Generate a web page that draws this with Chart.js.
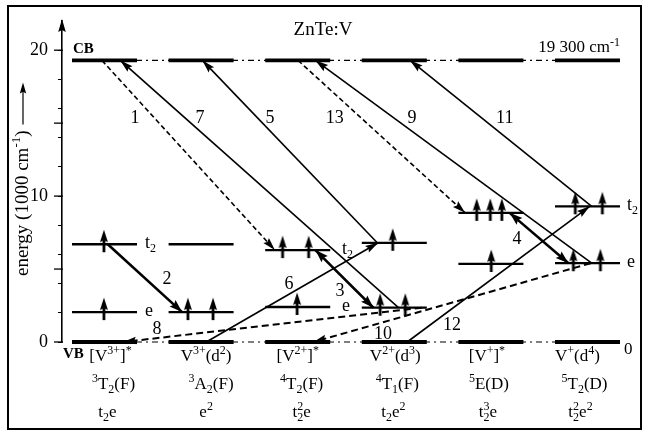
<!DOCTYPE html>
<html>
<head>
<meta charset="utf-8">
<script src="https://cdn.jsdelivr.net/npm/chart.js@4.4.1/dist/chart.umd.min.js"></script>
<style>
  html, body { margin: 0; padding: 0; background: #fff; }
  canvas { display: block; }
</style>
</head>
<body>
<canvas id="chart" width="646" height="432"></canvas>
<script>
// ---- data (energies in 1000 cm-1, x in column units) ----
const CB = 19.3;
const VB = 0;
const rowIon = ["[V^{3+}]^{*}", "V^{3+}(d^{2})", "[V^{2+}]^{*}", "V^{2+}(d^{3})", "[V^{+}]^{*}", "V^{+}(d^{4})"];
const rowTerm = ["^{3}T_{2}(F)", "^{3}A_{2}(F)", "^{4}T_{2}(F)", "^{4}T_{1}(F)", "^{5}E(D)", "^{5}T_{2}(D)"];
const rowConf = ["t_{2}e", "e^{2}", "t_{2}^{2}e", "t_{2}e^{2}", "t_{2}^{3}e", "t_{2}^{2}e^{2}"];
const levelT2 = [6.7, 6.7, 6.3, 6.8, 8.85, 9.3];
const levelE = [2.05, 2.05, 2.4, 2.35, 5.35, 5.4];

// electrons (spin-up arrows) sitting on the levels
const spinX = [0.33, 0.33, 1.2, 1.46, 2.18, 2.45, 2.33, 3.32, 3.19, 3.45, 4.19, 4.33, 4.45, 4.34, 5.21, 5.49, 5.19, 5.47];
const spinE = [6.7, 2.05, 2.05, 2.05, 6.3, 6.3, 2.4, 6.8, 2.35, 2.35, 8.85, 8.85, 8.85, 5.35, 9.3, 9.3, 5.4, 5.4];

// transitions 1..13 : start -> end (arrow at end)
const transNo = ["1", "2", "3", "4", "5", "6", "7", "8", "9", "10", "11", "12", "13"];
const transX0 = [0.31, 0.37, 2.52, 4.53, 3.16, 1.39, 3.38, 3.62, 5.38, 5.37, 5.38, 3.47, 2.34];
const transE0 = [19.3, 6.7, 6.3, 8.85, 6.8, 0, 2.35, 2.35, 5.4, 5.4, 9.3, 0, 19.3];
const transX1 = [2.1, 1.14, 3.12, 5.14, 1.35, 3.17, 0.5, 0.53, 2.52, 2.5, 3.5, 5.36, 4.07];
const transE1 = [6.3, 2.05, 2.35, 5.4, 19.3, 6.8, 19.3, 0, 19.3, 0, 19.3, 9.3, 8.85];

// ---- layout ----
const W = 0.673;                       // width of a level segment
const dashed = ["1", "8", "10", "13"];
const doubleHead = ["3", "4"];
const thick = ["2", "3", "4"];
const numX = [0.652, 0.983, 2.774, 4.607, 2.05, 2.246, 1.325, 0.88, 3.52, 3.22, 4.48, 3.934, 2.72];
const numE = [15.4, 4.39, 3.56, 7.13, 15.4, 4.04, 15.4, 0.96, 15.4, 0.62, 15.4, 1.23, 15.4];
const serif = '"Liberation Serif", "Times New Roman", serif';

// spin arrow glyph used as point style
const spin = document.createElement("canvas");
spin.width = 12; spin.height = 30;
(() => {
  const g = spin.getContext("2d");
  g.fillStyle = "#000"; g.strokeStyle = "#000";
  g.lineWidth = 2.8;
  g.beginPath(); g.moveTo(6, 10); g.lineTo(6, 23); g.stroke();
  g.beginPath(); g.moveTo(6, 0.5); g.lineTo(10, 13); g.lineTo(6, 11); g.lineTo(2, 13); g.closePath(); g.fill();
})();

const seg = (x0, x1, y, w, dash) => ({
  data: [{ x: x0, y: y }, { x: x1, y: y }],
  showLine: true, borderColor: "#000", borderWidth: w, borderDash: dash || [],
  pointRadius: 0, clip: false
});

const datasets = [];
datasets.push(seg(0, 5 + W, CB, 1.2, [6, 4, 2, 4]));
datasets.push(seg(0, 5 + W, VB, 1.2, [6, 4, 2, 4]));
for (let i = 0; i < 6; i++) {
  datasets.push(seg(i, i + W, CB, 3.6));
  datasets.push(seg(i, i + W, VB, 3.8));
  datasets.push(seg(i, i + W, levelT2[i], 2.3));
  datasets.push(seg(i, i + W, levelE[i], 2.3));
}
const transStart = datasets.length;
transNo.forEach((n, k) => {
  datasets.push({
    data: [{ x: transX0[k], y: transE0[k] }, { x: transX1[k], y: transE1[k] }],
    showLine: true, borderColor: "#000", pointRadius: 0, clip: false,
    borderWidth: thick.includes(n) ? 2.6 : (n === "8" || n === "10" ? 2 : 1.6),
    borderDash: dashed.includes(n) ? (n === "8" || n === "10" ? [7, 4] : [5, 3]) : []
  });
});
datasets.push({
  data: spinX.map((x, k) => ({ x: x, y: spinE[k] })),
  showLine: false, pointStyle: spin, pointRadius: 5, clip: false
});

// ---- rich text: ^{sup} _{sub} ----
function parseRich(str) {
  const parts = [];
  let i = 0, buf = "";
  while (i < str.length) {
    const c = str[i];
    if ((c === "^" || c === "_") && str[i + 1] === "{") {
      if (buf) { parts.push({ t: buf, m: "n" }); buf = ""; }
      const end = str.indexOf("}", i);
      parts.push({ t: str.slice(i + 2, end), m: c === "^" ? "sup" : "sub" });
      i = end + 1;
    } else { buf += c; i++; }
  }
  if (buf) parts.push({ t: buf, m: "n" });
  return parts;
}

function drawRich(ctx, str, x, y, size, align, weight) {
  const parts = parseRich(str);
  const fN = (weight || "") + " " + size + "px " + serif;
  const fS = (weight || "") + " " + Math.round(size * 0.68) + "px " + serif;
  let cx = 0;
  const pos = [];
  parts.forEach((p, k) => {
    ctx.font = p.m === "n" ? fN : fS;
    const pw = ctx.measureText(p.t).width;
    if (p.m === "sup" && k > 0 && parts[k - 1].m === "sub") {
      pos.push(pos[k - 1]);
      cx = Math.max(cx, pos[k - 1] + pw);
    } else { pos.push(cx); cx += pw; }
  });
  const x0 = align === "center" ? x - cx / 2 : align === "right" ? x - cx : x;
  ctx.textAlign = "left";
  ctx.textBaseline = "alphabetic";
  parts.forEach((p, k) => {
    ctx.font = p.m === "n" ? fN : fS;
    const dy = p.m === "sup" ? -0.4 * size : p.m === "sub" ? 0.22 * size : 0;
    ctx.fillText(p.t, x0 + pos[k], y + dy);
  });
  return cx;
}

function head(ctx, x0, y0, x1, y1, len, half) {
  const a = Math.atan2(y1 - y0, x1 - x0);
  ctx.save();
  ctx.translate(x1, y1);
  ctx.rotate(a);
  ctx.beginPath();
  ctx.moveTo(0, 0); ctx.lineTo(-len, -half); ctx.lineTo(-len * 0.85, 0); ctx.lineTo(-len, half);
  ctx.closePath(); ctx.fill();
  ctx.restore();
}

const decor = {
  id: "decor",
  beforeDraw(chart) {
    const ctx = chart.ctx;
    ctx.save(); ctx.fillStyle = "#fff"; ctx.fillRect(0, 0, chart.width, chart.height); ctx.restore();
  },
  afterDraw(chart) {
    const ctx = chart.ctx, xs = chart.scales.x, ys = chart.scales.y, area = chart.chartArea;
    const X = v => xs.getPixelForValue(v), Y = v => ys.getPixelForValue(v);
    ctx.save();
    ctx.fillStyle = "#000"; ctx.strokeStyle = "#000";

    // frame
    ctx.lineWidth = 2;
    ctx.strokeRect(8, 6, 633, 423);

    // axis arrow + major ticks
    head(ctx, area.left, area.bottom, area.left, area.top - 2, 13, 3.8);
    ctx.lineWidth = 1.3;
    [0, 5, 10, 15, 20].forEach(v => {
      ctx.beginPath(); ctx.moveTo(area.left - 8, Y(v)); ctx.lineTo(area.left + 1, Y(v)); ctx.stroke();
    });

    // axis title
    ctx.save();
    ctx.translate(28, 276);
    ctx.rotate(-Math.PI / 2);
    const tw = drawRich(ctx, "energy (1000 cm^{-1})", 0, 0, 19, "left");
    ctx.lineWidth = 1.2;
    ctx.beginPath(); ctx.moveTo(tw + 6, -5); ctx.lineTo(tw + 44, -5); ctx.stroke();
    head(ctx, tw + 6, -5, tw + 48, -5, 11, 3.2);
    ctx.restore();

    // title and band labels
    drawRich(ctx, "ZnTe:V", 323, 35, 19, "center");
    drawRich(ctx, "CB", 73, Y(CB) - 7, 15, "left", "bold");
    drawRich(ctx, "VB", 63, Y(VB) + 16, 15, "left", "bold");
    drawRich(ctx, "19 300 cm^{-1}", 620, Y(CB) - 8, 17, "right");
    drawRich(ctx, "0", 624, Y(VB) + 12, 17, "left");

    // level names
    [[0, 145], [2, 342], [5, 627]].forEach(([i, lx]) => {
      drawRich(ctx, "t_{2}", lx, Y(levelT2[i]) + 4, 18, "left");
      drawRich(ctx, "e", lx, Y(levelE[i]) + 4, 18, "left");
    });

    // transition numbers
    transNo.forEach((n, k) => drawRich(ctx, n, X(numX[k]), Y(numE[k]) + 6, 18, "center"));

    // arrow heads of transitions
    transNo.forEach((n, k) => {
      const pts = chart.getDatasetMeta(transStart + k).data;
      const big = thick.includes(n);
      const L = 13, H = big ? 4.4 : 3.8;
      head(ctx, pts[0].x, pts[0].y, pts[1].x, pts[1].y, L, H);
      if (doubleHead.includes(n)) head(ctx, pts[1].x, pts[1].y, pts[0].x, pts[0].y, L, H);
    });

    // state labels under the diagram
    const off1 = [6, 5, 0, 1, -4, -10], off2 = [9, 10, 4, 3, -2, -3], off3 = [3, 5, 4, -1, -3, -7];
    for (let i = 0; i < 6; i++) {
      const cx = X(i + W / 2);
      drawRich(ctx, rowIon[i], cx + off1[i], 361, 17, "center");
      drawRich(ctx, rowTerm[i], cx + off2[i], 389, 17, "center");
      drawRich(ctx, rowConf[i], cx + off3[i], 417, 17, "center");
    }
    ctx.restore();
  }
};

new Chart(document.getElementById("chart"), {
  type: "scatter",
  data: { datasets: datasets },
  options: {
    responsive: false,
    devicePixelRatio: 1,
    animation: false,
    layout: { padding: { top: 21, right: 6, bottom: 90, left: 0 } },
    plugins: { legend: { display: false }, tooltip: { enabled: false } },
    scales: {
      x: { type: "linear", min: -0.1035, max: 5.88, display: false },
      y: {
        min: 0, max: 22,
        afterFit: s => { s.width = 62; },
        afterBuildTicks: s => { s.ticks = s.ticks.filter(t => t.value <= 20); },
        ticks: {
          stepSize: 1, color: "#000", padding: 10,
          font: { family: serif, size: 18 },
          callback: v => (v % 5 === 0 ? v : "")
        },
        grid: { drawOnChartArea: false, drawTicks: true, tickLength: 4, color: "#000", lineWidth: 1 },
        border: { display: true, color: "#000", width: 1.6 }
      }
    }
  },
  plugins: [decor]
});
</script>
</body>
</html>
